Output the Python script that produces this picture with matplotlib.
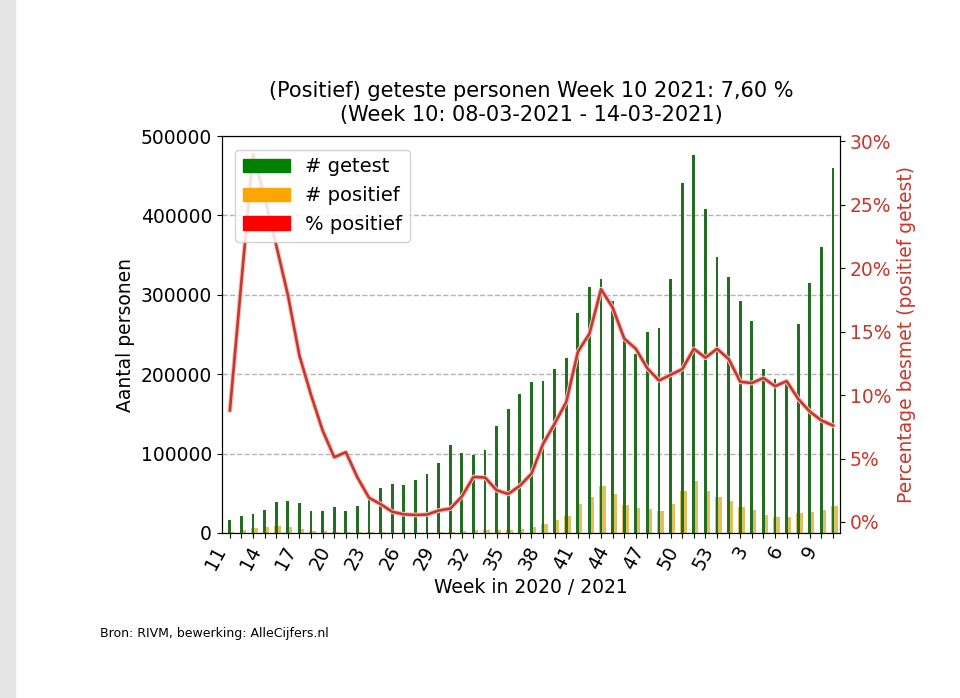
import numpy as np
import matplotlib.pyplot as plt
import matplotlib.patches as mpatches
import matplotlib.patheffects as pe
from matplotlib.ticker import FuncFormatter, MultipleLocator

# weeknummers 2020 (11-53) en 2021 (1-10)
weken = list(range(11, 54)) + list(range(1, 11))

# aantal geteste personen per week
getest = [16400, 20900, 23900, 28900, 38500, 39800, 37700, 28000, 28000, 32200,
          28000, 33500, 45800, 56300, 61200, 60800, 66700, 74200, 88000, 111000,
          100400, 98500, 104800, 135000, 156000, 175600, 190500, 192000, 206300, 220200,
          277500, 309900, 320000, 292500, 241500, 225200, 253500, 257900, 319500, 441000,
          476800, 407600, 347600, 322400, 292200, 267100, 207000, 193700, 191600, 262900,
          315300, 360200, 459200]

# aantal positief geteste personen per week
positief = [1450, 4000, 6900, 7400, 8400, 7100, 4900, 2800, 2000, 1600,
            1500, 1200, 850, 800, 500, 400, 400, 400, 800, 1200,
            2000, 3500, 3700, 3400, 3400, 5000, 7900, 11300, 16400, 21800,
            36500, 45700, 58600, 48500, 35200, 30900, 29700, 28000, 36500, 53200,
            64900, 53200, 45700, 40600, 32200, 29300, 22500, 19600, 20500, 25000,
            26800, 28500, 34300]

# percentage positief
perc = [8.8, 19.0, 29.0, 25.6, 21.8, 17.9, 13.1, 10.0, 7.2, 5.1,
        5.5, 3.5, 1.9, 1.4, 0.8, 0.6, 0.55, 0.58, 0.9, 1.05,
        2.0, 3.55, 3.5, 2.5, 2.2, 2.85, 3.8, 6.15, 7.75, 9.45,
        13.4, 14.85, 18.35, 16.9, 14.45, 13.65, 12.1, 11.15, 11.6, 12.05,
        13.65, 12.95, 13.65, 12.85, 11.05, 10.95, 11.35, 10.7, 11.1, 9.7,
        8.7, 8.0, 7.6]

x = np.arange(len(weken))
rood = '#c8372d'

fig = plt.figure(figsize=(9.6, 6.98), dpi=100)
# grijze rand links (screenshot)
fig.patches.append(mpatches.Rectangle((0, 0), 15/960, 1, transform=fig.transFigure,
                                      color='#e4e4e4', zorder=0))
ax = fig.add_axes([0.231, 0.2364, 0.644, 0.5686])

ax.bar(x + 0.12, positief, width=0.55, color='#dcc25a', zorder=2)
ax.bar(x, getest, width=0.24, color='#236e23', zorder=3)
ax.set_ylim(0, 500000)
ax.set_xlim(-0.7, 52.6)
ax.yaxis.grid(True, linestyle='--', color='#b4b4b4', linewidth=1, zorder=0)
ax.set_axisbelow(True)
ax.set_ylabel('Aantal personen', fontsize=13.5)
ax.set_xlabel('Week in 2020 / 2021', fontsize=13.5)
ax.tick_params(axis='y', labelsize=13.5)
ax.set_xticks(x)
ax.set_xticklabels([str(w) if i % 3 == 0 else '' for i, w in enumerate(weken)],
                   rotation=62, ha='right', fontsize=13.5)
ax.set_title('(Positief) geteste personen Week 10 2021: 7,60 %\n'
             '(Week 10: 08-03-2021 - 14-03-2021)', fontsize=15, pad=11,
             linespacing=1.25)

ax2 = ax.twinx()
ax2.plot(x, perc, color=rood, linewidth=1.9, zorder=2,
         path_effects=[pe.Stroke(linewidth=3.4, foreground='#f3c4bd'), pe.Normal()])
ax2.set_xlim(-0.7, 52.6)
ax2.yaxis.set_major_locator(MultipleLocator(5))
ax2.yaxis.set_major_formatter(FuncFormatter(lambda v, p: '{:.0f}%'.format(v)))
ax2.tick_params(axis='y', labelsize=13.5, labelcolor=rood)
ax2.set_ylabel('Percentage besmet (positief getest)', fontsize=13.5, color=rood)

handles = [mpatches.Patch(color='green', label='# getest'),
           mpatches.Patch(color='orange', label='# positief'),
           mpatches.Patch(color='red', label='% positief')]
leg = ax2.legend(handles=handles, loc='upper left', fontsize=14, framealpha=0.85,
                 handlelength=2.4, borderaxespad=0.7)
leg.set_zorder(10)

fig.text(0.104, 0.088, 'Bron: RIVM, bewerking: AlleCijfers.nl', fontsize=9)

fig.savefig('out.png', dpi=100)
